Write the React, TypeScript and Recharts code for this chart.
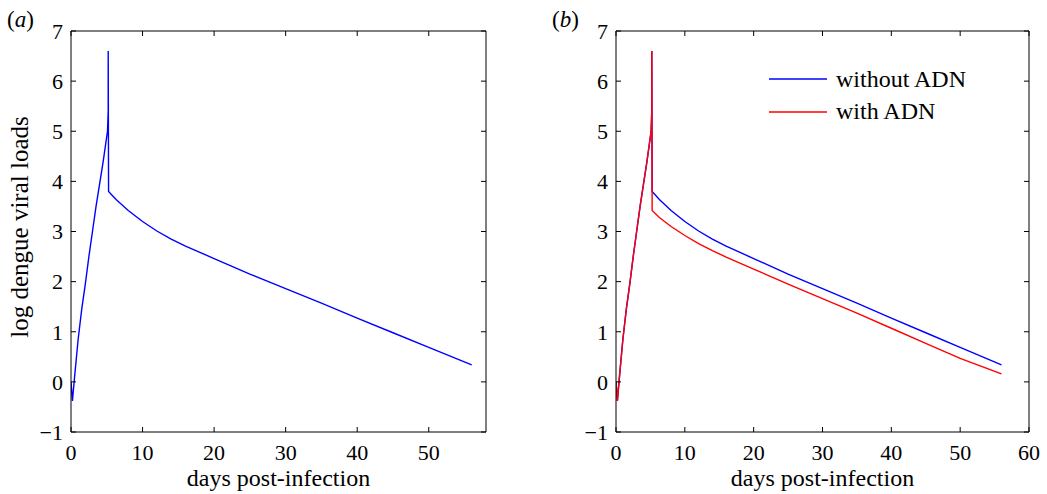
import { Legend, Line, LineChart, XAxis, YAxis } from "recharts"

// viral load readings (log scale) - rise and spike are shared by both runs
const riseDays = [0, 0.2, 0.5, 1.0, 1.5, 2.0, 2.5, 3.0, 3.5, 4.0, 4.5, 5.1, 5.2, 5.2]
const riseLoad = [0, -0.38, 0.1, 0.85, 1.45, 1.95, 2.5, 3.0, 3.5, 3.95, 4.4, 5.0, 5.4, 6.6]

const decayDays = [5.25, 6.3, 8, 10, 12, 14, 16, 20, 25, 30, 35, 40, 45, 50, 56]
const decayWithout = [3.8, 3.64, 3.42, 3.2, 3.01, 2.85, 2.71, 2.46, 2.15, 1.86, 1.57, 1.27, 0.98, 0.69, 0.34]
const decayWith = [3.42, 3.28, 3.1, 2.92, 2.76, 2.62, 2.49, 2.25, 1.95, 1.66, 1.37, 1.07, 0.77, 0.47, 0.16]

const yTicks = [-1, 0, 1, 2, 3, 4, 5, 6, 7]
const xTicksA = [0, 10, 20, 30, 40, 50]
const xTicksB = [0, 10, 20, 30, 40, 50, 60]

const data = [
  ...riseDays.map((d, i) => ({ days: d, without: riseLoad[i], with: riseLoad[i] })),
  ...decayDays.map((d, i) => ({ days: d, without: decayWithout[i], with: decayWith[i] })),
]

const font = "'Liberation Serif', 'Times New Roman', serif"
const tickStyle = { fill: "#000", fontSize: 22, fontFamily: font }
const labelStyle = { fontSize: 24, fontFamily: font, fill: "#000" }
const minus = (v: number) => String(v).replace("-", "\u2212")
const blank = () => ""
const legendOrder = ["without ADN", "with ADN"]

function LegendBox({ payload }: any) {
  const items = [...(payload || [])].sort((a: any, b: any) => legendOrder.indexOf(a.value) - legendOrder.indexOf(b.value))
  return (
    <div style={{ fontFamily: font, fontSize: 24, color: "#000" }}>
      {items.map((p: any) => (
        <div key={p.value} style={{ display: "flex", alignItems: "center", height: 32.4 }}>
          <svg width={58} height={4}>
            <line x1={0} x2={58} y1={2} y2={2} stroke={p.color} strokeWidth={1.4} />
          </svg>
          <span style={{ marginLeft: 9 }}>{p.value}</span>
        </div>
      ))}
    </div>
  )
}

function Frame({ ticks, domain, left, right }: { ticks: number[]; domain: [number, number]; left: number; right: number }) {
  return [
    <XAxis
      key="xb"
      dataKey="days"
      type="number"
      domain={domain}
      ticks={ticks}
      height={62}
      tickSize={-5}
      tickMargin={17}
      tick={tickStyle}
      stroke="#000"
      allowDataOverflow
      label={{ value: "days post-infection", position: "insideBottom", offset: 8, style: labelStyle }}
    />,
    <XAxis
      key="xt"
      xAxisId="top"
      dataKey="days"
      orientation="top"
      type="number"
      domain={domain}
      ticks={ticks}
      height={31}
      tickSize={-5}
      tickFormatter={blank}
      stroke="#000"
      allowDataOverflow
    />,
    <YAxis
      key="yl"
      type="number"
      domain={[-1, 7]}
      ticks={yTicks}
      width={left}
      tickSize={-5}
      tickMargin={13}
      tick={tickStyle}
      tickFormatter={minus}
      stroke="#000"
      allowDataOverflow
    />,
    <YAxis
      key="yr"
      yAxisId="right"
      orientation="right"
      type="number"
      domain={[-1, 7]}
      ticks={yTicks}
      width={right}
      tickSize={-5}
      tickFormatter={blank}
      stroke="#000"
      allowDataOverflow
    />,
  ]
}

export default function App() {
  return (
    <div style={{ position: "absolute", left: 0, top: 0, width: 1047, height: 494, background: "#fff" }}>
      <div style={{ position: "absolute", left: 7, top: 7, fontFamily: font, fontSize: 23 }}>
        (<i>a</i>)
      </div>
      <div style={{ position: "absolute", left: 552, top: 7, fontFamily: font, fontSize: 23 }}>
        (<i>b</i>)
      </div>

      <div style={{ position: "absolute", left: 0, top: 0 }}>
        <LineChart width={530} height={494} data={data} margin={{ top: 0, right: 0, bottom: 0, left: 0 }}>
          {Frame({ ticks: xTicksA, domain: [0, 58], left: 71, right: 44 })}
          <Line type="linear" dataKey="without" stroke="#0000ff" strokeWidth={1.4} dot={false} isAnimationActive={false} />
        </LineChart>
        <div
          style={{
            position: "absolute",
            left: 20,
            top: 227,
            transform: "translate(-50%, -50%) rotate(-90deg)",
            whiteSpace: "nowrap",
            fontFamily: font,
            fontSize: 25,
          }}
        >
          log dengue viral loads
        </div>
      </div>

      <div style={{ position: "absolute", left: 530, top: 0 }}>
        <LineChart width={517} height={494} data={data} margin={{ top: 0, right: 0, bottom: 0, left: 0 }}>
          {Frame({ ticks: xTicksB, domain: [0, 60], left: 86, right: 18 })}
          <Line type="linear" dataKey="without" name="without ADN" stroke="#0000ff" strokeWidth={1.4} dot={false} isAnimationActive={false} />
          <Line type="linear" dataKey="with" name="with ADN" stroke="#ff0000" strokeWidth={1.4} dot={false} isAnimationActive={false} />
          <Legend
            layout="vertical"
            align="center"
            verticalAlign="middle"
            content={<LegendBox />}
            wrapperStyle={{ left: 239, top: 63, width: 250, height: 70 }}
          />
        </LineChart>
      </div>
    </div>
  )
}
